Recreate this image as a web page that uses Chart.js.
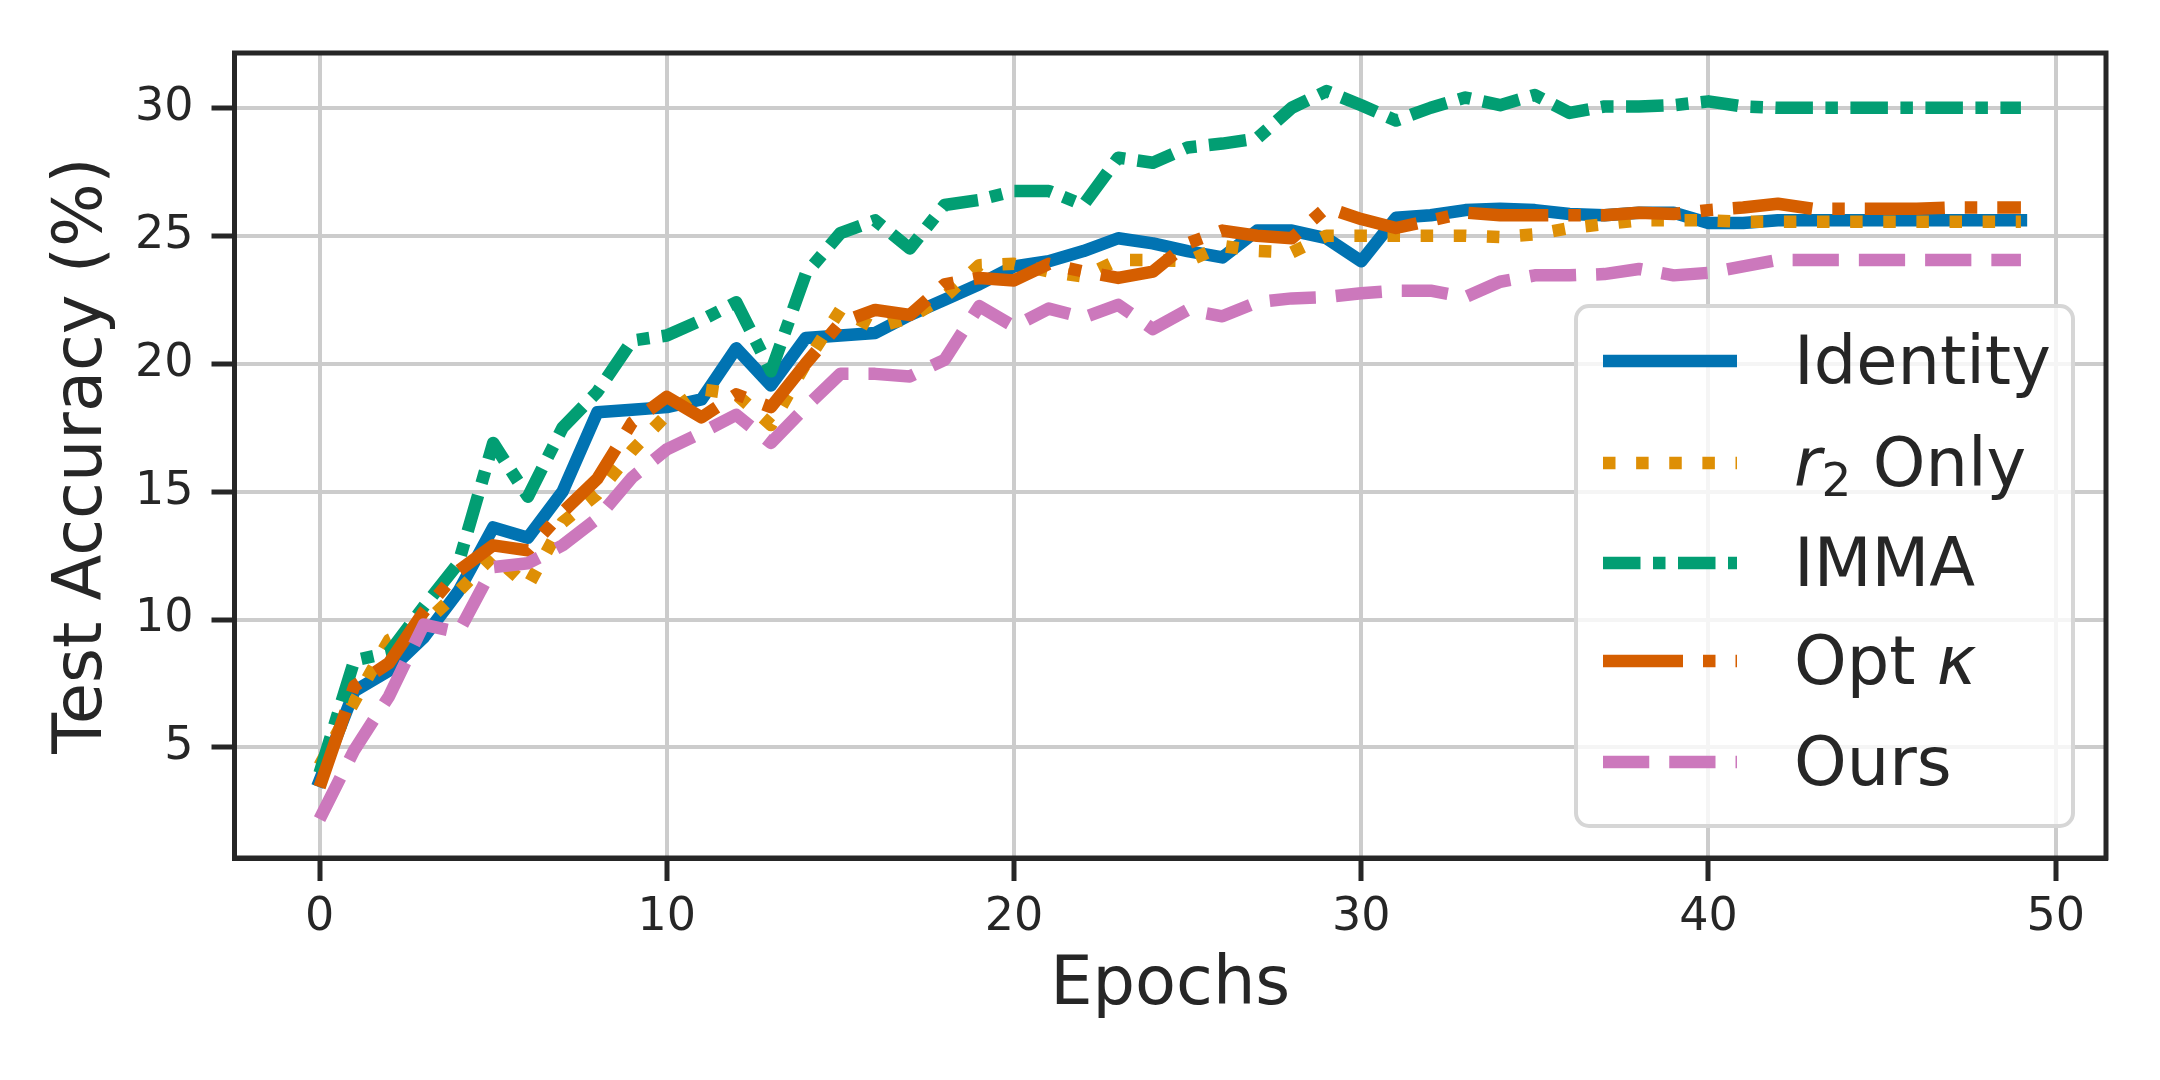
<!DOCTYPE html>
<html>
<head>
<meta charset="utf-8">
<script src="https://cdn.jsdelivr.net/npm/chart.js@4.4.0/dist/chart.umd.min.js"></script>
<style>
    html, body { margin: 0; padding: 0; background: #fff; overflow: hidden; }
    #wrap { position: relative; width: 2160px; height: 1080px; }
    #legend {
        position: absolute;
        box-sizing: border-box;
        width: 501px;
        height: 524px;
        border: 4px solid #d6d6d6;
        border-radius: 15px;
        background: rgba(255, 255, 255, 0.8);
        font-family: 'DejaVu Sans', sans-serif;
        font-size: 67px;
        color: #262626;
    }
    .legend-row {
        position: absolute;
        left: 0;
        height: 100px;
        display: flex;
        align-items: center;
        white-space: nowrap;
    }
    .legend-row svg { margin-left: 25px; }
    .legend-row span { margin-left: 57px; line-height: 1; }
    .legend-row sub { font-size: 0.7em; vertical-align: -0.22em; line-height: 0; }
</style>
</head>
<body>
<div id="wrap">
    <canvas id="accChart" width="2160" height="1080"></canvas>
    <div id="legend"></div>
</div>
<script>
// values
const epochs = [0, 1, 2, 3, 4, 5, 6, 7, 8, 9, 10, 11, 12, 13, 14, 15, 16, 17, 18, 19,
    20, 21, 22, 23, 24, 25, 26, 27, 28, 29, 30, 31, 32, 33, 34, 35, 36, 37, 38, 39,
    40, 41, 42, 43, 44, 45, 46, 47, 48, 49];

const identityAcc = [3.7, 7.2, 8.0, 9.3, 11.1, 13.6, 13.2, 15.0, 18.1, 18.2,
    18.3, 18.6, 20.6, 19.15, 21.0, 21.1, 21.2, 21.9, 22.5, 23.1,
    23.8, 24.0, 24.4, 24.9, 24.7, 24.4, 24.15, 25.2, 25.2, 24.9,
    24.0, 25.7, 25.8, 26.0, 26.05, 26.0, 25.85, 25.8, 25.9, 25.9,
    25.5, 25.5, 25.6, 25.6, 25.6, 25.6, 25.6, 25.6, 25.6, 25.6];

const r2OnlyAcc = [4.3, 6.8, 9.2, 9.8, 11.1, 12.5, 11.3, 13.8, 14.9, 16.6,
    18.0, 19.0, 18.8, 17.6, 20.0, 22.1, 21.4, 21.8, 22.6, 23.85,
    23.9, 23.6, 23.4, 24.05, 24.05, 24.0, 24.6, 24.4, 24.35, 25.0,
    25.0, 25.0, 25.0, 25.0, 24.95, 25.05, 25.3, 25.45, 25.6, 25.6,
    25.6, 25.55, 25.55, 25.55, 25.55, 25.55, 25.55, 25.55, 25.55, 25.55];

const immaAcc = [4.0, 8.4, 8.7, 10.5, 12.2, 16.9, 14.8, 17.5, 18.9, 20.9,
    21.1, 21.7, 22.4, 19.7, 23.5, 25.1, 25.6, 24.5, 26.2, 26.4,
    26.75, 26.75, 26.2, 28.05, 27.85, 28.45, 28.6, 28.8, 30.0, 30.65,
    30.1, 29.5, 30.0, 30.4, 30.1, 30.5, 29.8, 30.05, 30.05, 30.1,
    30.25, 30.05, 30.0, 30.0, 30.0, 30.0, 30.0, 30.0, 30.0, 30.0];

const optKappaAcc = [3.45, 7.4, 8.3, 10.3, 11.9, 12.9, 12.7, 14.2, 15.5, 17.7,
    18.7, 17.9, 18.8, 18.3, 20.0, 21.6, 22.1, 21.9, 23.1, 23.35,
    23.25, 23.9, 23.6, 23.35, 23.6, 24.7, 25.2, 25.0, 24.9, 26.1,
    25.65, 25.3, 25.6, 25.9, 25.8, 25.8, 25.8, 25.8, 25.9, 25.85,
    26.0, 26.1, 26.25, 26.05, 26.05, 26.05, 26.05, 26.1, 26.1, 26.1];

const oursAcc = [2.2, 4.9, 7.0, 9.8, 9.5, 12.05, 12.2, 12.9, 13.95, 15.55,
    16.65, 17.3, 18.0, 16.9, 18.3, 19.6, 19.6, 19.5, 20.15, 22.25,
    21.45, 22.15, 21.8, 22.3, 21.35, 22.1, 21.85, 22.4, 22.55, 22.6,
    22.75, 22.85, 22.85, 22.6, 23.2, 23.45, 23.45, 23.5, 23.7, 23.45,
    23.55, 23.8, 24.05, 24.05, 24.05, 24.05, 24.05, 24.05, 24.05, 24.05];

const methodNames = ['Identity', 'r₂ Only', 'IMMA', 'Opt κ', 'Ours'];
const legendMarkup = ['Identity', '<i>r</i><sub>2</sub> Only', 'IMMA', 'Opt <i>κ</i>', 'Ours'];
const xTicks = [0, 10, 20, 30, 40, 50];
const yTicks = [5, 10, 15, 20, 25, 30];

// styles
const lw = 12.5;
const ink = '#262626';
const seriesStyle = [
    { color: '#0173B2', dash: [] },
    { color: '#DE8F05', dash: [1 * lw, 1.65 * lw] },
    { color: '#029E73', dash: [3 * lw, 1 * lw, 1 * lw, 1 * lw] },
    { color: '#D55E00', dash: [6.4 * lw, 1.6 * lw, 1 * lw, 1.6 * lw] },
    { color: '#CC78BC', dash: [3.7 * lw, 1.6 * lw] }
];
const allAcc = [identityAcc, r2OnlyAcc, immaAcc, optKappaAcc, oursAcc];

const frame = {
    id: 'frame',
    afterDatasetsDraw(chart) {
        const { ctx, chartArea: a } = chart;
        ctx.save();
        ctx.strokeStyle = ink;
        ctx.lineWidth = 5;
        ctx.strokeRect(a.left, a.top, a.right - a.left, a.bottom - a.top);
        ctx.restore();
    }
};

function axisCommon(tickValues, width) {
    return {
        type: 'linear',
        afterBuildTicks: scale => { scale.ticks = tickValues.map(v => ({ value: v })); },
        grid: {
            color: '#cccccc',
            lineWidth: 4,
            drawTicks: true,
            tickLength: 23,
            tickWidth: 5,
            tickColor: ink
        },
        border: { display: true, color: ink, width: 5 }
    };
}

const xAxis = axisCommon(xTicks);
xAxis.min = -2.45;
xAxis.max = 51.45;
xAxis.ticks = { color: ink, padding: 9, maxRotation: 0, font: { family: 'DejaVu Sans', size: 46 } };
xAxis.title = { display: true, text: 'Epochs', color: ink, padding: { top: 0, bottom: 53 },
    font: { family: 'DejaVu Sans', size: 67 } };
xAxis.afterFit = scale => { scale.height = 222; };

const yAxis = axisCommon(yTicks);
yAxis.min = 0.68;
yAxis.max = 32.14;
yAxis.ticks = { color: ink, padding: 18, font: { family: 'DejaVu Sans', size: 46 } };
yAxis.title = { display: true, text: 'Test Accuracy (%)', color: ink, padding: { top: 43, bottom: 0 },
    font: { family: 'DejaVu Sans', size: 67 } };
yAxis.afterFit = scale => { scale.width = 234.5; };

const ctx = document.getElementById('accChart').getContext('2d');
const chart = new Chart(ctx, {
    type: 'line',
    data: {
        datasets: allAcc.map((values, i) => ({
            label: methodNames[i],
            data: epochs.map((e, j) => ({ x: e, y: values[j] })),
            borderColor: seriesStyle[i].color,
            backgroundColor: seriesStyle[i].color,
            borderWidth: lw,
            borderDash: seriesStyle[i].dash,
            borderCapStyle: seriesStyle[i].dash.length ? 'butt' : 'square',
            borderJoinStyle: 'round',
            pointRadius: 0,
            tension: 0,
            fill: false,
            order: allAcc.length - 1 - i
        }))
    },
    options: {
        responsive: false,
        animation: false,
        layout: { padding: { left: 0, top: 53, right: 54, bottom: 0 } },
        scales: { x: xAxis, y: yAxis },
        plugins: {
            legend: { display: false },
            tooltip: { enabled: false }
        }
    },
    plugins: [frame]
});

// legend box in the lower right of the plot
function buildLegend() {
    const box = document.getElementById('legend');
    const a = chart.chartArea;
    box.style.left = (a.right - 31 - 501) + 'px';
    box.style.top = (a.bottom - 30 - 524) + 'px';
    const rowCenters = [53, 155, 255, 353, 454];
    chart.data.datasets.forEach((ds, i) => {
        const row = document.createElement('div');
        row.className = 'legend-row';
        row.style.top = (rowCenters[i] - 50) + 'px';
        const dash = ds.borderDash.length ? `stroke-dasharray="${ds.borderDash.join(' ')}"` : '';
        row.innerHTML = `
            <svg width="134" height="14"><line x1="0" y1="7" x2="134" y2="7"
                stroke="${ds.borderColor}" stroke-width="${lw}" ${dash}/></svg>
            <span>${legendMarkup[i]}</span>`;
        box.appendChild(row);
    });
}
buildLegend();
</script>
</body>
</html>
